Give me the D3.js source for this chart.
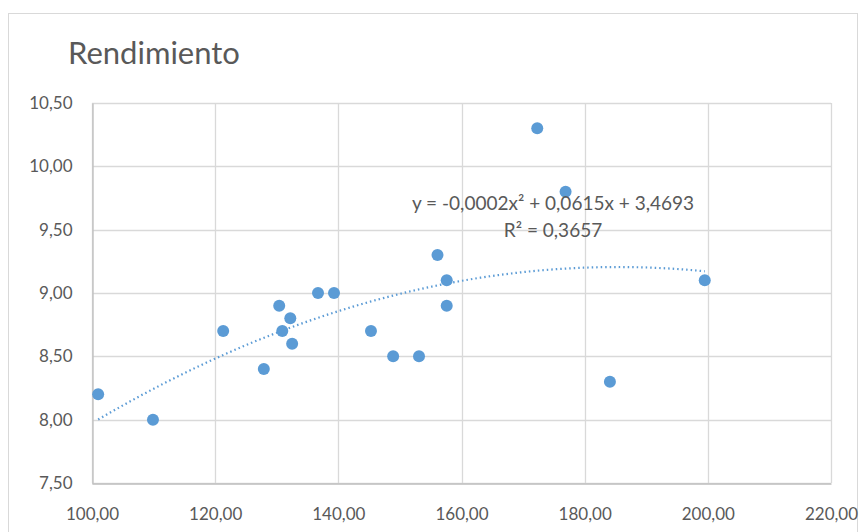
<!DOCTYPE html>
<html><head><meta charset="utf-8">
<script src="https://cdn.jsdelivr.net/npm/d3@7"></script>
<style>body{margin:0;background:#fff}svg{display:block}text{font-family:Lato,"Open Sans",sans-serif}</style>
</head><body>
<svg id="c" width="865" height="532"></svg>
<script>
const xValues = [101.0,109.9,121.3,127.9,130.4,130.9,132.2,132.5,136.7,139.3,145.3,148.9,153.1,156.1,157.6,157.6,172.3,176.9,184.1,199.5];
const yValues = [8.20,8.00,8.70,8.40,8.90,8.70,8.80,8.60,9.00,9.00,8.70,8.50,8.50,9.30,8.90,9.10,10.30,9.80,8.30,9.10];
const xTicks = [100,120,140,160,180,200,220];
const yTicks = [7.5,8.0,8.5,9.0,9.5,10.0,10.5];
const title = "Rendimiento";
const eqText = "y = -0,0002x² + 0,0615x  + 3,4693";
const r2Text = "R² = 0,3657";

const svg = d3.select("#c");
const m={l:92,r:831,t:103,b:483};
const x=d3.scaleLinear().domain([100,220]).range([m.l,m.r]);
const y=d3.scaleLinear().domain([7.5,10.5]).range([m.b,m.t]);
const fmt=v=>d3.format(".2f")(v).replace(".",",");
const grey="#595959", grid="#d9d9d9", blue="#5b9bd5";

svg.append("rect").attr("x",8.5).attr("y",13.5).attr("width",849).attr("height",540).attr("fill","#fff").attr("stroke",grid);

svg.append("text").attr("x",68).attr("y",64).attr("font-size",31).attr("fill",grey).text(title);

// grid
svg.append("g").selectAll("line").data(yTicks).join("line")
 .attr("x1",m.l).attr("x2",m.r).attr("y1",d=>Math.round(y(d))+0.5).attr("y2",d=>Math.round(y(d))+0.5)
 .attr("stroke",grid).attr("stroke-width",1.3);
svg.append("g").selectAll("line").data(xTicks).join("line")
 .attr("y1",m.t).attr("y2",m.b).attr("x1",d=>Math.round(x(d))+0.5).attr("x2",d=>Math.round(x(d))+0.5)
 .attr("stroke",grid).attr("stroke-width",1.3);

// axes
const ax=d3.axisLeft(y).tickValues(yTicks).tickFormat(fmt).tickSize(0).tickPadding(20);
const gy=svg.append("g").attr("transform",`translate(${m.l+0.5},0)`).call(ax);
gy.select(".domain").attr("stroke","#bfbfbf").attr("stroke-width",1.3);
gy.selectAll("text").attr("font-size",17).attr("fill",grey).attr("font-family","Lato,'Open Sans',sans-serif");
const bx=d3.axisBottom(x).tickValues(xTicks).tickFormat(fmt).tickSize(0).tickPadding(24);
const gx=svg.append("g").attr("transform",`translate(0,${m.b+0.5})`).call(bx);
gx.select(".domain").attr("stroke","#bfbfbf").attr("stroke-width",1.3);
gx.selectAll("text").attr("font-size",17).attr("fill",grey).attr("font-family","Lato,'Open Sans',sans-serif");

// quadratic least squares fit
function polyfit2(xs,ys){
  let S=[0,0,0,0,0],T=[0,0,0];
  xs.forEach((xi,i)=>{let p=1;for(let k=0;k<5;k++){S[k]+=p;if(k<3)T[k]+=p*ys[i];p*=xi;}});
  const A=[[S[0],S[1],S[2],T[0]],[S[1],S[2],S[3],T[1]],[S[2],S[3],S[4],T[2]]];
  for(let i=0;i<3;i++){for(let j=i+1;j<3;j++){const f=A[j][i]/A[i][i];for(let k=i;k<4;k++)A[j][k]-=f*A[i][k];}}
  const c=[0,0,0];
  for(let i=2;i>=0;i--){let s=A[i][3];for(let k=i+1;k<3;k++)s-=A[i][k]*c[k];c[i]=s/A[i][i];}
  return c;
}
const c=polyfit2(xValues,yValues);
const xs=d3.extent(xValues);
const curve=d3.range(0,101).map(i=>{const xv=xs[0]+(xs[1]-xs[0])*i/100;return [xv,c[0]+c[1]*xv+c[2]*xv*xv];});
svg.append("path").datum(curve).attr("d",d3.line().x(d=>x(d[0])).y(d=>y(d[1])))
 .attr("fill","none").attr("stroke",blue).attr("stroke-width",2.2).attr("stroke-dasharray","1.5,3").attr("stroke-linecap","butt");

// points
svg.append("g").selectAll("circle").data(xValues.map((v,i)=>[v,yValues[i]])).join("circle")
 .attr("cx",d=>x(d[0])).attr("cy",d=>y(d[1])).attr("r",6).attr("fill",blue);

// equation
svg.append("text").attr("x",553).attr("y",210).attr("text-anchor","middle").attr("font-size",19).attr("fill",grey).text(eqText);
svg.append("text").attr("x",553).attr("y",237).attr("text-anchor","middle").attr("font-size",19).attr("fill",grey).text(r2Text);
</script>
</body></html>
